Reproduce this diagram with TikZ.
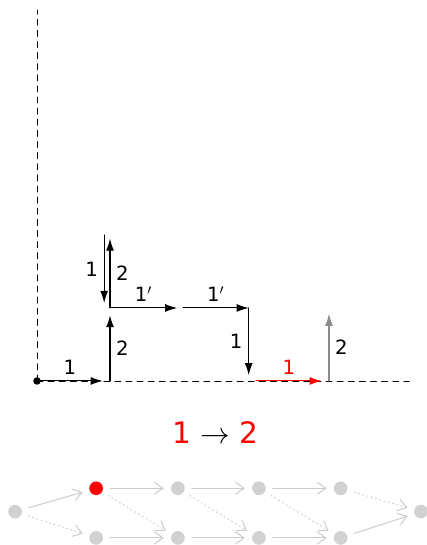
\documentclass[tikz,border=0pt]{standalone}
\usepackage{fontspec}
\setmainfont{DejaVu Sans}
\usetikzlibrary{arrows.meta,positioning}

\begin{document}
\begin{tikzpicture}[x=1.5cm,y=1.5cm,>={Latex[length=7pt,width=4.6pt]},line cap=round,line join=round,
  stepline/.style={->,line width=0.6pt},
  axisline/.style={dash pattern=on 3.5pt off 3pt,line width=0.5pt},
  every node/.style={font=\fontsize{11.5}{14}\selectfont},
  state/.style={circle,fill=black!18,inner sep=0pt,minimum size=8pt},
  move/.style={-{Straight Barb[length=5pt,width=7pt]},draw=black!20,line width=0.6pt,shorten >=4pt,shorten <=4pt},
  skip/.style={move,dotted}]
  \useasboundingbox (-0.507,-2.247) rectangle (5.329,5.219);

  % axes
  \coordinate (O) at (0,0);
  \coordinate (ytop) at (0,5.08);
  \coordinate (xend) at (5.1,0);
  \draw[axisline] (O) -- (ytop);
  \draw[axisline] (O) -- (xend);
  \fill (O) circle (2.2pt);

  % step end points
  \coordinate (s1) at (0.9,0);
  \coordinate (b1) at (1,0);
  \coordinate (t1) at (1,0.9);
  \coordinate (c1) at (1,1);
  \coordinate (c1e) at (1.92,1);
  \coordinate (u0) at (0.92,2);
  \coordinate (u1) at (0.92,1.07);
  \coordinate (v1) at (1,1.95);
  \coordinate (c2) at (2,1);
  \coordinate (k2) at (2.9,1);
  \coordinate (k2e) at (2.9,0.08);
  \coordinate (r0) at (3,0);
  \coordinate (r1) at (3.9,0);
  \coordinate (g0) at (4,0);
  \coordinate (g1) at (4,0.92);

  % steps
  \draw[stepline] (O) -- node[above] {1} (s1);
  \draw[stepline] (b1) -- node[right] {2} (t1);
  \draw[stepline] (c1) -- node[above] {1$'$} (c1e);
  \draw[stepline] (u0) -- node[left] {1} (u1);
  \draw[stepline] (c1) -- node[right] {2} (v1);
  \draw[stepline] (c2) -- node[above] {1$'$} (k2);
  \draw[stepline] (k2) -- node[left] {1} (k2e);
  \draw[stepline,red] (r0) -- node[above] {1} (r1);
  \draw[stepline,black!45] (g0) -- node[right,black] {2} (g1);

  % rule
  \node[font=\LARGE] (rule) at (2.44,-0.70) {\textcolor{red}{1} $\rightarrow$ \textcolor{red}{2}};

  % graph
  \node[state] (n0) at (-0.30,-1.79) {};
  \node[state,fill=red] (p1) at (0.81,-1.47) {};
  \node[state] (p2) at (1.93,-1.47) {};
  \node[state] (p3) at (3.04,-1.47) {};
  \node[state] (p4) at (4.16,-1.47) {};
  \node[state] (q1) at (0.81,-2.15) {};
  \node[state] (q2) at (1.93,-2.15) {};
  \node[state] (q3) at (3.04,-2.15) {};
  \node[state] (q4) at (4.16,-2.15) {};
  \node[state] (n5) at (5.26,-1.79) {};
  \draw[move] (n0) -- (p1);
  \draw[skip] (n0) -- (q1);
  \draw[move] (p1) -- (p2);
  \draw[move] (p2) -- (p3);
  \draw[move] (p3) -- (p4);
  \draw[move] (q1) -- (q2);
  \draw[move] (q2) -- (q3);
  \draw[move] (q3) -- (q4);
  \draw[skip] (p1) -- (q2);
  \draw[skip] (p2) -- (q3);
  \draw[skip] (p3) -- (q4);
  \draw[skip] (p4) -- (n5);
  \draw[move] (q4) -- (n5);
\end{tikzpicture}
\end{document}
